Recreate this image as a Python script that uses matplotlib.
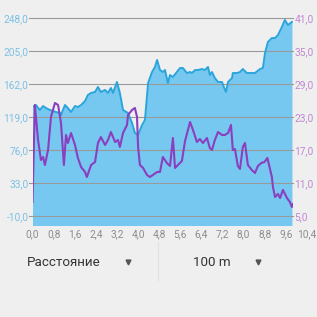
import matplotlib
matplotlib.use("Agg")
import matplotlib.pyplot as plt
from matplotlib.lines import Line2D
import matplotlib.transforms as mtransforms

plt.rcParams['font.family'] = ['Roboto', 'DejaVu Sans']

# Elevation (left axis)
elev_x = [0.0, 0.13, 0.28, 0.40, 0.51, 0.66, 0.78, 0.89, 1.04, 1.08, 1.23, 1.34, 1.46, 1.61,
          1.72, 1.84, 1.99, 2.10, 2.22, 2.37, 2.48, 2.59, 2.75, 2.86, 2.97, 3.05, 3.20, 3.31,
          3.43, 3.62, 3.77, 3.88, 4.00, 4.15, 4.26, 4.38, 4.53, 4.64, 4.72, 4.83, 4.94, 5.02,
          5.13, 5.21, 5.32, 5.47, 5.59, 5.70, 5.85, 5.97, 6.04, 6.16, 6.27, 6.42, 6.53, 6.65,
          6.72, 6.80, 6.91, 7.03, 7.18, 7.25, 7.33, 7.41, 7.56, 7.59, 7.75, 7.86, 7.97, 8.12,
          8.24, 8.43, 8.62, 8.73, 8.81, 8.92, 9.07, 9.19, 9.30, 9.45, 9.56, 9.68, 9.83]
elev_y = [132.0, 134.6, 128.1, 133.3, 130.7, 128.1, 126.8, 125.5, 124.2, 121.6, 134.6, 130.7,
          125.5, 133.3, 132.0, 134.6, 139.8, 147.7, 150.3, 151.6, 158.1, 151.6, 154.2, 150.3,
          156.8, 150.3, 164.6, 150.3, 128.1, 124.2, 111.2, 98.2, 95.5, 108.6, 115.1, 163.3,
          177.6, 184.2, 193.3, 180.2, 177.6, 180.2, 163.3, 173.7, 171.1, 177.6, 182.8, 182.8,
          176.3, 177.6, 176.3, 180.2, 180.2, 181.5, 180.2, 184.2, 173.7, 177.6, 169.8, 164.6,
          164.6, 158.1, 151.6, 164.6, 169.8, 176.3, 176.3, 177.6, 181.5, 176.3, 176.3, 176.3,
          181.5, 182.8, 202.4, 216.7, 221.9, 221.9, 225.8, 236.3, 245.4, 238.9, 242.8]

# Second series (right axis)
sec_x = [0.0, 0.09, 0.21, 0.32, 0.40, 0.47, 0.59, 0.70, 0.85, 0.97, 1.08, 1.19, 1.27, 1.34,
         1.46, 1.61, 1.72, 1.84, 1.99, 2.06, 2.22, 2.37, 2.48, 2.59, 2.75, 2.86, 2.97, 3.13,
         3.24, 3.31, 3.43, 3.58, 3.62, 3.77, 3.88, 3.96, 4.00, 4.07, 4.19, 4.34, 4.45, 4.56,
         4.72, 4.83, 4.94, 5.09, 5.21, 5.32, 5.40, 5.51, 5.66, 5.78, 5.89, 5.97, 6.08, 6.23,
         6.34, 6.46, 6.61, 6.72, 6.80, 6.91, 7.03, 7.18, 7.29, 7.41, 7.52, 7.59, 7.67, 7.78,
         7.86, 7.97, 8.05, 8.16, 8.31, 8.43, 8.54, 8.67, 8.79, 8.90, 9.07, 9.11, 9.19, 9.30,
         9.38, 9.49, 9.64, 9.75, 9.83, 9.87]
sec_y = [7.55, 25.18, 18.82, 15.18, 15.73, 14.27, 17.0, 23.0, 25.55, 25.18, 21.91, 14.27,
         19.73, 18.27, 20.09, 17.91, 15.55, 13.91, 13.0, 12.09, 14.27, 14.82, 18.27, 19.36,
         17.91, 18.82, 20.27, 18.45, 18.82, 17.55, 20.09, 21.55, 23.36, 24.27, 24.64, 23.0,
         17.55, 14.27, 13.73, 12.45, 12.09, 12.45, 13.0, 13.0, 15.73, 14.64, 14.09, 19.18,
         13.73, 14.27, 15.0, 18.64, 20.64, 22.09, 20.64, 18.45, 19.0, 18.27, 19.18, 17.36,
         17.0, 18.82, 20.27, 19.73, 19.73, 20.09, 21.55, 17.0, 17.18, 14.09, 13.55, 17.55,
         18.27, 14.27, 13.36, 12.82, 14.09, 14.64, 14.82, 15.55, 12.09, 10.27, 8.45, 9.0,
         8.27, 9.73, 8.27, 7.55, 6.64, 7.18]

left_ticks = [-10.0, 33.0, 76.0, 119.0, 162.0, 205.0, 248.0]
right_ticks = [5.0, 11.0, 17.0, 23.0, 29.0, 35.0, 41.0]
x_ticks = [0.0, 0.8, 1.6, 2.4, 3.2, 4.0, 4.8, 5.6, 6.4, 7.2, 8.0, 8.8, 9.6, 10.4]
bottom_left_label = "Расстояние"
bottom_right_label = "100 m"

BG = '#efefef'
W = H = 317
fig = plt.figure(figsize=(W / 100, H / 100), dpi=100, facecolor=BG)
ax = fig.add_axes([32.5 / W, (H - 225) / H, (293 - 32.5) / W, (225 - 8) / H])
ax.set_facecolor(BG)

ax.fill_between(elev_x, elev_y, -100, color='#76c8f0', lw=0, zorder=1)
ax.plot(elev_x, elev_y, color='#2aa5dc', lw=1.4, zorder=3)
ax.set_xlim(0, 9.87)
ax.set_ylim(-21.7, 261.0)

ax2 = ax.twinx()
ax2.plot(sec_x, sec_y, color='#8a3fbf', lw=1.5, zorder=4)
ax2.set_ylim(3.36, 42.82)

for t in left_ticks:
    ax.axhline(t, color='#9a9a9a', lw=0.8, zorder=2, xmin=-0.015, clip_on=False)

ax.set_yticks(left_ticks)
ax.set_yticklabels([f"{v:.1f}".replace('.', ',') for v in left_ticks])
ax2.set_yticks(right_ticks)
ax2.set_yticklabels([f"{v:.1f}".replace('.', ',') for v in right_ticks])

shown_x = [v for v in x_ticks if v <= 9.87]
ax.set_xticks(shown_x)
ax.set_xticklabels([f"{v:.1f}".replace('.', ',') for v in shown_x])
off = mtransforms.ScaledTranslation(0, -3 / 72, fig.dpi_scale_trans)
for v in x_ticks:
    if v > 9.87:
        ax.text(v, 0, f"{v:.1f}".replace('.', ','), transform=ax.get_xaxis_transform() + off,
                ha='center', va='top', fontsize=7.3, color='#8c8c8c', clip_on=False)

ax.tick_params(axis='y', length=0, pad=3, labelsize=7.3, labelcolor='#7cc0e4')
ax2.tick_params(axis='y', length=0, pad=1, labelsize=7.3, labelcolor='#c088d0')
ax.tick_params(axis='x', length=0, pad=3, labelsize=7.3, labelcolor='#8c8c8c')
for a in (ax, ax2):
    for s in a.spines.values():
        s.set_visible(False)

# bottom selector bar
fig.text(27 / W, 1 - 263 / H, bottom_left_label, fontsize=9.6, color='#333333', va='center', ha='left')
fig.text(193 / W, 1 - 263 / H, bottom_right_label, fontsize=9.6, color='#333333', va='center', ha='left')
for xp in (128, 258):
    fig.add_artist(Line2D([xp / W], [1 - 262 / H], marker='v', markersize=3.5,
                          color='#555555', transform=fig.transFigure))
fig.add_artist(Line2D([158 / W, 158 / W], [1 - 242 / H, 1 - 280 / H], color='#e2e2e2',
                      lw=0.8, transform=fig.transFigure))

fig.savefig('out.png', dpi=100, facecolor=BG)
